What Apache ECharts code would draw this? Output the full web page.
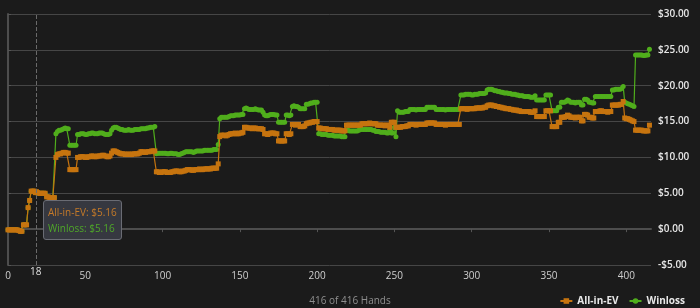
<!DOCTYPE html>
<html>
<head>
<meta charset="utf-8">
<script src="https://cdn.jsdelivr.net/npm/echarts@6/dist/echarts.min.js"></script>
<style>
html,body{margin:0;padding:0;background:#1b1b1b;}
#chart{width:700px;height:308px;}
</style>
</head>
<body>
<div id="chart"></div>
<script>
// Hand-by-hand values (index = hand number 0..415)
var allInEV = [
-0.1,-0.1,-0.1,-0.1,-0.1,-0.1,-0.1,-0.2,-0.3,-0.3,
0.6,0.6,0.6,3.0,4.0,5.3,5.3,5.3,5.16,5.1,
5.0,5.0,5.0,5.0,5.0,4.5,4.5,4.4,4.4,4.4,
4.4,10.0,10.4,10.5,10.5,10.6,10.7,10.7,10.6,10.6,
8.3,8.3,8.3,8.3,8.3,10.0,10.0,10.1,10.1,10.1,
10.0,10.0,10.1,10.1,10.2,10.2,10.1,10.1,10.2,10.2,
10.2,10.3,10.3,10.2,10.1,10.1,10.2,10.6,10.9,10.9,
10.8,10.7,10.6,10.5,10.5,10.5,10.4,10.4,10.5,10.4,
10.4,10.5,10.5,10.5,10.5,10.6,10.8,10.8,10.7,10.7,
10.8,10.8,10.8,10.9,10.9,10.9,8.0,8.0,7.9,7.9,
8.0,8.0,8.0,7.9,7.9,7.9,8.0,8.0,8.1,8.1,
8.1,8.0,8.0,8.1,8.1,8.2,8.3,8.3,8.3,8.2,
8.2,8.3,8.3,8.3,8.4,8.3,8.3,8.4,8.4,8.4,
8.4,8.4,8.5,8.5,8.5,8.5,9.1,12.9,13.1,13.1,
13.1,13.0,13.1,13.2,13.3,13.3,13.3,13.4,13.3,13.3,
13.4,13.4,13.5,14.2,14.2,14.1,14.1,14.1,14.0,14.1,
14.1,14.0,14.0,14.0,14.0,13.9,13.3,13.3,13.2,13.3,
13.4,13.4,13.4,13.3,13.3,12.3,12.3,12.3,12.3,12.3,
13.3,13.3,13.2,13.3,14.6,14.6,14.5,14.6,14.6,14.3,
14.3,14.3,14.4,14.7,14.8,14.8,14.9,14.9,15.0,15.0,
15.0,14.1,14.1,14.0,14.0,14.0,14.0,13.9,13.9,13.9,
13.9,13.8,13.8,13.8,13.8,13.8,13.7,13.7,13.7,14.5,
14.5,14.5,14.5,14.5,14.5,14.5,14.5,14.5,14.5,14.7,
14.7,14.7,14.7,14.7,14.8,14.7,14.7,14.7,14.7,14.5,
14.5,14.5,14.5,14.5,14.4,14.5,14.5,14.2,14.9,14.9,
14.9,14.2,14.2,14.2,14.2,14.3,14.3,14.3,14.4,14.4,
14.6,14.6,14.6,14.6,14.5,14.6,14.6,14.6,14.6,14.6,
14.6,14.8,14.8,14.8,14.8,14.8,14.8,14.6,14.6,14.6,
14.6,14.6,14.6,14.5,14.6,14.6,14.6,14.6,14.6,14.6,
14.6,14.6,14.6,16.8,16.8,16.8,16.8,16.7,16.8,16.8,
16.8,16.8,16.8,16.9,16.9,16.9,16.9,16.9,17.0,17.0,
17.2,17.3,17.3,17.3,17.2,17.2,17.1,17.1,17.0,17.0,
16.9,16.9,16.8,16.8,16.8,16.7,16.7,16.6,16.6,16.6,
16.5,16.5,16.4,16.4,16.4,16.4,16.4,16.4,16.3,16.3,
16.3,16.5,15.7,15.7,15.7,15.7,15.7,15.7,16.5,16.5,
16.5,16.5,14.3,14.3,14.3,14.3,14.9,14.9,15.6,15.6,
15.6,15.7,15.9,15.8,15.6,15.6,15.6,15.5,15.6,15.6,
15.6,15.1,15.1,16.0,16.0,15.9,15.6,15.6,15.5,15.5,
16.4,16.4,16.4,16.5,16.5,16.4,16.4,16.4,16.3,16.4,
16.4,17.3,17.3,17.3,17.3,17.3,17.4,17.4,17.8,15.5,
15.4,15.4,15.3,15.2,15.1,15.0,13.8,13.8,13.8,13.8,
13.8,13.7,13.7,13.7,13.7,14.5
];
var winloss = [
-0.1,-0.1,-0.1,-0.1,-0.1,-0.1,-0.1,-0.2,-0.3,-0.3,
0.6,0.6,0.6,3.0,4.0,5.3,5.3,5.3,5.16,5.1,
5.0,5.0,5.0,5.0,5.0,4.5,4.5,4.4,4.4,4.4,
4.4,13.3,13.6,13.8,13.8,13.9,14.0,14.1,14.0,14.0,
11.7,11.7,11.7,11.7,11.7,13.2,13.2,13.3,13.3,13.3,
13.2,13.2,13.3,13.3,13.4,13.4,13.3,13.3,13.3,13.4,
13.4,13.4,13.3,13.2,13.2,13.2,13.3,13.8,14.1,14.2,
14.2,14.1,14.0,13.9,13.9,13.8,13.8,13.8,13.9,13.8,
13.8,13.8,13.9,13.9,13.9,13.9,14.0,14.0,14.0,14.0,
14.1,14.1,14.2,14.2,14.2,14.3,10.5,10.6,10.6,10.6,
10.6,10.6,10.6,10.5,10.5,10.6,10.6,10.5,10.5,10.5,
10.4,10.4,10.5,10.6,10.7,10.8,10.8,10.8,10.8,10.8,
10.7,10.8,10.9,10.9,10.9,10.9,10.9,11.0,11.0,11.0,
11.0,11.0,11.0,11.1,11.1,11.1,11.8,15.4,15.6,15.6,
15.6,15.6,15.6,15.7,15.8,15.8,15.8,15.9,15.9,15.9,
15.9,16.0,16.0,16.8,16.9,16.8,16.7,16.7,16.7,16.7,
16.8,16.7,16.6,16.6,16.6,16.3,15.9,15.8,15.8,15.9,
16.0,16.0,16.0,15.9,15.9,14.9,14.9,14.9,14.9,14.9,
15.9,15.9,15.8,15.9,17.1,17.2,17.1,17.1,17.0,16.8,
16.8,16.8,16.8,17.4,17.4,17.5,17.6,17.6,17.7,17.7,
17.7,13.3,13.3,13.2,13.2,13.2,13.2,13.1,13.1,13.1,
13.1,13.0,13.0,13.0,13.0,13.0,12.9,12.9,12.9,13.8,
13.8,13.7,13.7,13.7,13.7,13.7,13.7,13.8,13.9,13.9,
13.9,13.9,13.9,13.9,13.9,13.9,13.8,13.8,13.6,13.6,
13.6,13.5,13.5,13.5,13.5,13.4,13.4,13.8,13.4,13.4,
14.2,12.9,16.5,16.3,16.3,16.3,16.3,16.4,16.4,16.4,
16.7,16.7,16.7,16.7,16.6,16.7,16.7,16.7,16.7,16.7,
16.7,17.0,17.0,17.0,17.0,17.0,17.0,16.7,16.7,16.7,
16.7,16.7,16.7,16.6,16.7,16.7,16.7,16.7,16.7,16.7,
16.7,16.7,16.7,18.7,18.7,18.7,18.8,18.8,18.8,18.8,
18.7,18.7,18.8,18.8,18.8,18.9,18.9,18.9,18.9,19.0,
19.4,19.5,19.5,19.5,19.4,19.3,19.3,19.2,19.2,19.1,
19.1,19.0,19.0,19.0,18.9,18.9,18.8,18.8,18.8,18.7,
18.7,18.6,18.6,18.6,18.5,18.5,18.5,18.5,18.4,18.4,
18.4,18.6,18.0,18.0,18.0,18.0,18.0,18.0,18.7,18.7,
18.7,18.7,16.5,16.5,16.5,16.5,17.0,17.0,17.7,17.7,
17.7,17.8,18.0,17.9,17.7,17.7,17.7,17.6,17.7,17.7,
17.7,17.3,17.3,18.1,18.1,18.0,17.7,17.7,17.6,17.6,
18.5,18.5,18.5,18.5,18.5,18.5,18.5,18.5,18.5,18.5,
18.5,19.4,19.4,19.5,19.5,19.5,19.5,19.6,19.9,17.7,
17.6,17.5,17.4,17.3,17.2,17.1,24.3,24.3,24.3,24.3,
24.3,24.2,24.2,24.3,24.3,25.1
];
var seriesNames = ['All-in-EV', 'Winloss'];
var totalHands = 416;
var yTicks = [-5, 0, 5, 10, 15, 20, 25, 30];
var selectedHand = 18;
var titleText = totalHands + ' of ' + totalHands + ' Hands';

var ORANGE = '#c6740f', GREEN = '#50ae1c';
var FONT = "'Open Sans', 'Noto Sans', sans-serif";

function pairs(arr){ return arr.map(function(v,i){ return [i, v]; }); }
function money(v){ return (v < 0 ? '-$' : '$') + Math.abs(v).toFixed(2); }

var chart = echarts.init(document.getElementById('chart'), null, {renderer:'canvas'});
chart.setOption({
  backgroundColor: '#1b1b1b',
  animation: false,
  textStyle: {fontFamily: FONT},
  title: {
    text: titleText, left: 'center', top: 291,
    textStyle: {fontSize: 10, fontWeight: 'normal', color: '#8f8f8f', fontFamily: FONT}
  },
  legend: {
    data: seriesNames, right: 10, top: 291, itemWidth: 12, itemHeight: 7, itemGap: 10,
    textStyle: {color: '#e8e8e8', fontSize: 10, fontWeight: 'bold', fontFamily: FONT},
    inactiveColor: '#555'
  },
  grid: {left: 8, right: 49, top: 14, bottom: 43, containLabel: false},
  tooltip: {
    trigger: 'axis',
    alwaysShowContent: true,
    transitionDuration: 0,
    position: [43, 200],
    backgroundColor: '#363840',
    borderColor: '#6a6c74',
    borderWidth: 1,
    padding: [3, 4],
    extraCssText: 'box-shadow:none;border-radius:3px;',
    textStyle: {fontFamily: FONT, fontSize: 10},
    formatter: function(params){
      var ev = null, wl = null;
      params.forEach(function(p){ if (p.seriesName === 'All-in-EV') ev = p.value[1]; else wl = p.value[1]; });
      return '<div style="line-height:16px;font-family:Open Sans,Noto Sans,sans-serif;font-size:10px">' +
        '<div style="color:#c57a28">All-in-EV: ' + money(ev) + '</div>' +
        '<div style="color:#4fa828">Winloss: ' + money(wl) + '</div></div>';
    }
  },
  xAxis: {
    type: 'value', min: 0, max: totalHands, interval: 50,
    axisLine: {show: true, lineStyle: {color: '#4d4d4d', width: 2}},
    axisTick: {show: true, length: 3, lineStyle: {color: '#555'}},
    splitLine: {show: false},
    axisLabel: {color: '#cfcfcf', fontSize: 10, margin: 6, showMaxLabel: false, fontFamily: FONT},
    axisPointer: {
      show: true, snap: true, type: 'line',
      lineStyle: {color: '#6a6a6a', type: 'dashed', width: 1},
      label: {
        show: true, backgroundColor: 'transparent', color: '#e0e0e0', fontSize: 10,
        padding: [0, 0, 0, 0], margin: 2, fontFamily: FONT,
        formatter: function(p){ return String(Math.round(p.value)); }
      }
    }
  },
  yAxis: {
    type: 'value', position: 'right', min: yTicks[0], max: yTicks[yTicks.length-1], interval: 5,
    axisLine: {show: true, lineStyle: {color: '#4d4d4d', width: 2}},
    axisTick: {show: true, length: 3, lineStyle: {color: '#555'}},
    splitLine: {show: true, lineStyle: {color: '#464646', width: 1}},
    axisLabel: {color: '#e6e6e6', fontSize: 10, margin: 7, fontWeight: 600, fontFamily: FONT, formatter: money},
    axisPointer: {show: false}
  },
  series: [
    {
      name: 'Winloss', type: 'line', data: pairs(winloss), z: 2,
      color: GREEN, symbol: 'circle', symbolSize: 5, showSymbol: true,
      lineStyle: {width: 1.2, color: GREEN},
      itemStyle: {color: GREEN},
      emphasis: {disabled: true}
    },
    {
      name: 'All-in-EV', type: 'line', data: pairs(allInEV), z: 3,
      color: ORANGE, symbol: 'rect', symbolSize: 5, showSymbol: true,
      lineStyle: {width: 1.2, color: ORANGE},
      itemStyle: {color: ORANGE},
      emphasis: {disabled: true}
    }
  ]
});
chart.dispatchAction({type: 'showTip', seriesIndex: 1, dataIndex: selectedHand});
</script>
</body>
</html>
